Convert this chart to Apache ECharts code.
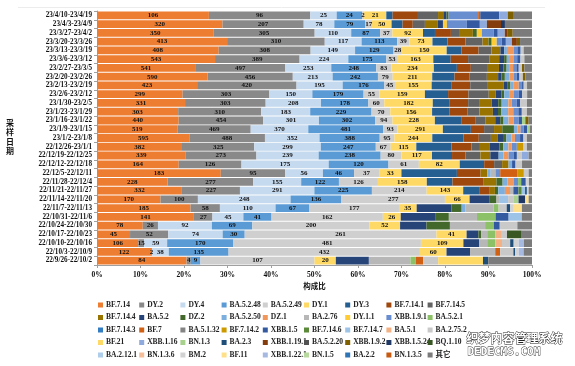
<!DOCTYPE html>
<html><head><meta charset="utf-8">
<script src="https://cdn.jsdelivr.net/npm/echarts@6/dist/echarts.min.js"></script>
<style>html,body{margin:0;padding:0;background:#fff}#c{width:575px;height:366px}</style>
</head><body><div id="c"></div>
<script>
const categories = ['23/4/10-23/4/19','23/4/3-23/4/9','23/3/27-23/4/2','23/3/20-23/3/26','23/3/13-23/3/19','23/3/6-23/3/12','23/2/27-23/3/5','23/2/20-23/2/26','23/2/13-23/2/19','23/2/6-23/2/12','23/1/30-23/2/5','23/1/23-23/1/29','23/1/16-23/1/22','23/1/9-23/1/15','23/1/2-23/1/8','22/12/26-23/1/1','22/12/19-22/12/25','22/12/12-22/12/18','22/12/5-22/12/11','22/11/28-22/12/4','22/11/21-22/11/27','22/11/14-22/11/20','22/11/7-22/11/13','22/10/31-22/11/6','22/10/24-22/10/30','22/10/17-22/10/23','22/10/10-22/10/16','22/10/3-22/10/9','22/9/26-22/10/2'];
const seriesNames = ['BF.7.14','DY.2','DY.4','BA.5.2.48','BA.5.2.49','DY.1','DY.3','BF.7.14.1','BF.7.14.5',
'BF.7.14.4','BA.5.2','DZ.2','BA.5.2.50','DZ.1','BA.2.76','DY.1.1','XBB.1.9.1','BA.5.2.1',
'BF.7.14.3','BF.7','BA.5.1.32','BF.7.14.2','XBB.1.5','BF.7.14.6','BF.7.14.7','BA.5.1','BA.2.75.2',
'BF.21','XBB.1.16','BN.1.3','BA.2.3','XBB.1.19.1','BA.5.2.20','XBB.1.9.2','XBB.1.5.24','BQ.1.10',
'BA.2.12.1','BN.1.3.6','BM.2','BF.11','XBB.1.22.1','BN.1.5','BA.2.2','BN.1.3.5','其它'];
const xTicks = [0,10,20,30,40,50,60,70,80,90,100];
// counts per sampling week, in legend order (45 lineages)
const r01=[106,96,25,24,2,21, 6,24,19,5,3,2, 0,0,0,0,28,0, 0,2,0,0,18,0, 0,0,0,0,8,0, 0,0,0,5,0,0, 0,0,0,0,0,0, 0,0,18];
const r02=[320,207,78,79,17,50, 28,26,31,33,13,0, 0,0,0,10,51,0, 0,0,0,0,33,0, 0,0,0,0,18,0, 0,36,0,0,10,0, 0,0,0,0,0,0, 0,0,69];
const r03=[350,305,110,87,37,92, 36,48,27,39,0,12, 0,0,0,15,36,0, 0,0,0,0,12,0, 0,0,0,0,21,0, 0,9,0,15,0,0, 0,0,0,0,0,0, 0,0,58];
const r04=[413,310,117,113,39,73, 48,57,54,19,0,10, 0,0,0,16,16,0, 0,0,0,0,13,0, 0,0,0,0,19,0, 0,16,0,10,0,0, 0,0,0,0,0,0, 0,0,38];
const r05=[408,308,149,129,28,150, 50,57,43,30,13,0, 9,22,0,0,13,0, 0,0,0,0,11,0, 0,0,10,0,0,0, 0,0,0,0,0,0, 0,0,0,0,0,0, 0,0,28];
const r06=[543,389,224,175,53,163, 80,80,97,46,23,12, 10,23,0,0,15,0, 0,0,0,0,15,0, 0,0,18,0,0,0, 0,0,0,0,0,0, 0,0,0,0,0,0, 0,0,35];
const r07=[541,497,253,248,83,234, 127,77,94,61,24,18, 18,18,0,0,18,0, 0,0,0,0,13,0, 0,0,18,0,0,0, 0,0,0,13,0,0, 0,0,0,0,0,0, 0,0,42];
const r08=[590,456,213,242,79,211, 119,81,92,60,18,18, 24,22,0,0,18,0, 0,0,0,0,14,0, 0,0,18,0,0,0, 0,0,0,13,0,0, 0,0,0,0,0,0, 0,0,36];
const r09=[423,420,195,176,45,155, 85,78,71,71,14,14, 14,21,0,0,14,0, 0,0,0,0,7,0, 0,0,14,0,0,0, 0,0,0,0,0,0, 0,0,0,0,0,0, 0,0,21];
const r10=[299,303,150,179,55,159, 81,71,71,24,20,10, 17,17,0,0,17,0, 0,0,0,0,12,0, 0,0,17,0,0,0, 0,0,0,0,0,0, 0,0,0,0,0,0, 0,0,17];
const r11=[331,303,208,178,60,182, 64,69,44,44,25,13, 25,13,0,0,19,0, 0,0,0,0,13,0, 0,0,25,0,0,0, 0,0,0,0,0,0, 0,0,0,0,0,0, 0,0,19];
const r12=[303,310,183,229,70,156, 64,69,44,50,19,13, 25,19,0,0,19,0, 0,0,0,0,13,0, 0,0,19,0,0,0, 0,0,0,0,0,0, 0,0,0,0,0,0, 0,0,19];
const r13=[440,454,301,302,94,228, 145,72,54,54,27,18, 27,27,0,0,27,0, 0,0,0,0,18,0, 0,0,0,0,0,18, 0,0,0,18,0,0, 0,0,0,0,0,0, 0,0,18];
const r14=[519,469,370,481,93,291, 180,85,64,53,0,75, 21,21,0,0,21,0, 0,0,0,0,21,0, 0,0,0,0,0,17, 0,0,0,0,0,0, 0,0,0,0,0,0, 0,0,15];
const r15=[595,488,352,388,95,244, 200,100,78,45,33,22, 33,22,0,0,33,0, 0,0,0,0,22,0, 0,0,22,0,0,0, 0,0,0,0,0,0, 0,0,0,0,0,0, 0,0,33];
const r16=[382,325,299,247,67,115, 158,90,38,45,42,18, 23,15,0,0,23,0, 0,0,0,30,0,0, 0,0,15,0,0,0, 0,0,0,0,0,0, 0,0,0,0,0,0, 0,0,23];
const r17=[339,273,239,238,80,117, 77,51,58,38,32,0, 19,19,0,0,19,0, 0,0,0,0,13,0, 0,0,19,0,26,0, 0,0,0,0,0,0, 0,0,0,0,0,0, 0,0,13];
const r18=[164,126,175,120,61,82, 49,20,16,13,0,0, 7,0,0,0,0,0, 0,0,0,0,7,0, 0,0,13,0,0,0, 0,0,0,0,0,0, 0,0,0,0,0,0, 0,0,20];
const r19=[183,95,56,46,37,33, 82,35,0,10,0,0, 5,0,7,0,7,0, 0,25,0,10,0,0, 0,0,7,0,0,0, 0,0,0,0,0,0, 0,0,0,0,0,0, 0,0,5];
const r20=[228,277,155,122,126,158, 83,101,0,41,0,20, 15,20,0,0,15,10, 0,0,0,0,15,0, 0,0,0,0,0,0, 0,0,0,0,0,0, 0,0,10,0,0,0, 0,0,10];
const r21=[332,227,291,225,214,143, 65,39,0,20,0,13, 26,20,13,0,0,0, 0,0,0,0,20,13, 13,0,0,0,0,0, 7,0,0,0,0,0, 0,0,7,0,0,0, 0,0,13];
const r22=[170,100,248,136,277,66, 0,0,0,0,54,18, 0,0,9,0,0,0, 0,0,0,0,0,0, 22,0,14,0,0,14, 0,0,0,0,18,0, 0,0,0,9,0,0, 0,0,9];
const r23=[185,58,110,67,177,35, 0,0,0,0,69,20, 7,0,56,0,0,10, 0,0,0,0,0,0, 0,0,16,0,0,0, 7,0,0,0,0,0, 0,0,7,16,0,0, 0,0,20];
const r24=[141,27,45,41,162,26, 0,0,0,0,51,19, 0,0,41,0,0,27, 0,0,0,0,19,0, 19,0,0,0,0,0, 0,0,0,0,0,0, 0,0,0,0,0,0, 0,0,15];
const r25=[78,26,92,69,200,52, 0,0,0,0,45,40, 0,0,60,0,0,15, 0,0,0,0,10,0, 0,0,30,0,0,0, 0,0,0,0,0,0, 0,0,0,0,0,0, 0,0,25];
const r26=[45,52,74,30,261,41, 0,0,0,0,16,4, 0,0,8,0,0,11, 0,0,0,0,0,0, 0,9,7,0,0,0, 0,0,0,0,0,20, 0,0,0,0,0,0, 0,0,14];
const r27=[106,15,59,170,481,109, 0,0,0,0,40,0, 0,0,21,0,0,21, 0,0,0,0,0,0, 0,17,21,0,0,0, 9,0,0,0,0,0, 0,0,13,0,13,0, 0,0,21];
const r28=[122,2,38,135,432,60, 0,0,0,0,53,0, 0,0,57,0,0,0, 0,11,0,0,0,0, 0,0,30,0,0,0, 4,0,0,0,0,0, 0,0,8,0,11,0, 0,0,19];
const r29=[84,4,0,9,107,20, 0,0,0,0,31,0, 0,0,39,0,0,5, 0,7,0,0,0,0, 0,0,14,42,0,0, 5,0,0,0,0,0, 0,0,0,0,0,0, 0,0,41];
const rows=[r01,r02,r03,r04,r05,r06,r07,r08,r09,r10,r11,r12,r13,r14,r15,r16,r17,r18,r19,r20,r21,r22,r23,r24,r25,r26,r27,r28,r29];

const colors=['#ED7D31','#898989','#C5D9EF','#5B9BD5','#CFCFCF','#FFD966',
'#255E91','#9E480E','#636363','#997300','#264478','#43682B',
'#7CAFDD','#F1975A','#B7B7B7','#FFCD33','#698ED0','#8CC168',
'#327DC2','#D26012','#848484','#CC9A00','#335AA1','#5A8A39',
'#9DC3E6','#F4B183','#C9C9C9','#FFD966','#8FAADC','#A9D18E',
'#1F4E79','#843C0C','#525252','#7F6000','#203864','#385723',
'#ADCDEA','#F6BE98','#D2D2D2','#FFE08A','#A6B9E1','#B7D99F',
'#2E75B6','#C55A11','#7B7B7B'];

const totals=rows.map(r=>r.reduce((a,b)=>a+b,0));
const serif="'Liberation Serif','Noto Sans CJK SC',serif";
const series=seriesNames.map((name,s)=>({
  name,type:'bar',stack:'all',barCategoryGap:'11%',
  data:rows.map((r,i)=>r[s]/totals[i]*100),
  itemStyle:{color:colors[s]},
  emphasis:{disabled:true},
  label:s<6?{show:true,position:'inside',fontSize:7,fontWeight:'bold',fontFamily:serif,color:'#111',
    formatter:p=>rows[p.dataIndex][s]>0?String(rows[p.dataIndex][s]):''}:{show:false}
}));
const legends=[];
for(let c=0;c<9;c++){
  const d=[];for(let r=0;r<5;r++)d.push(seriesNames[r*9+c]);
  legends.push({orient:'vertical',left:98+41.2*c,top:301,height:75,itemWidth:5,itemHeight:5,itemGap:4.5,icon:'rect',
    selectedMode:false,data:d,padding:0,textStyle:{fontSize:7.5,fontWeight:'bold',fontFamily:serif,color:'#222',lineHeight:8,padding:[0,0,0,-2]}});
}
const chart=echarts.init(document.getElementById('c'));
chart.setOption({
  animation:false,
  color:colors,
  grid:{left:97,right:43,top:11,bottom:101,containLabel:false},
  xAxis:{type:'value',min:xTicks[0],max:xTicks[xTicks.length-1],interval:xTicks[1]-xTicks[0],
    axisLabel:{formatter:'{value}%',fontSize:7.5,fontWeight:'bold',fontFamily:serif,color:'#111',margin:6},
    axisLine:{show:true,lineStyle:{color:'#a0a0a0'}},axisTick:{show:true,length:3,lineStyle:{color:'#a0a0a0'}},
    splitLine:{show:false},
    name:'构成比',nameLocation:'middle',nameGap:16,nameTextStyle:{fontSize:7.5,fontWeight:'bold',fontFamily:serif,color:'#111'}},
  yAxis:{type:'category',data:categories,inverse:true,
    axisLabel:{interval:0,fontSize:7.2,fontWeight:'bold',fontFamily:serif,color:'#111',margin:5},
    axisLine:{show:true,lineStyle:{color:'#a0a0a0'}},axisTick:{show:true,length:3,lineStyle:{color:'#a0a0a0'}}},
  legend:legends,
  series,
  graphic:[
    {type:'line',shape:{x1:18,y1:7.5,x2:545,y2:7.5},style:{stroke:'#ececec',lineWidth:1},silent:true},
    {type:'text',left:6,top:118,style:{text:'采\n样\n日\n期',font:"bold 8px 'Noto Sans CJK SC'",lineHeight:9.5,fill:'#111'}},
    {type:'text',left:466,top:332,style:{text:'织梦内容管理系统',font:"bold 12px 'Noto Sans CJK SC'",fill:'#fff',stroke:'#222',lineWidth:0.8}},
    {type:'text',left:467,top:346,style:{text:'DEDECMS.COM',font:"bold 11px 'DejaVu Sans Mono'",fill:'#fff',stroke:'#222',lineWidth:0.8}}
  ]
});
</script></body></html>
